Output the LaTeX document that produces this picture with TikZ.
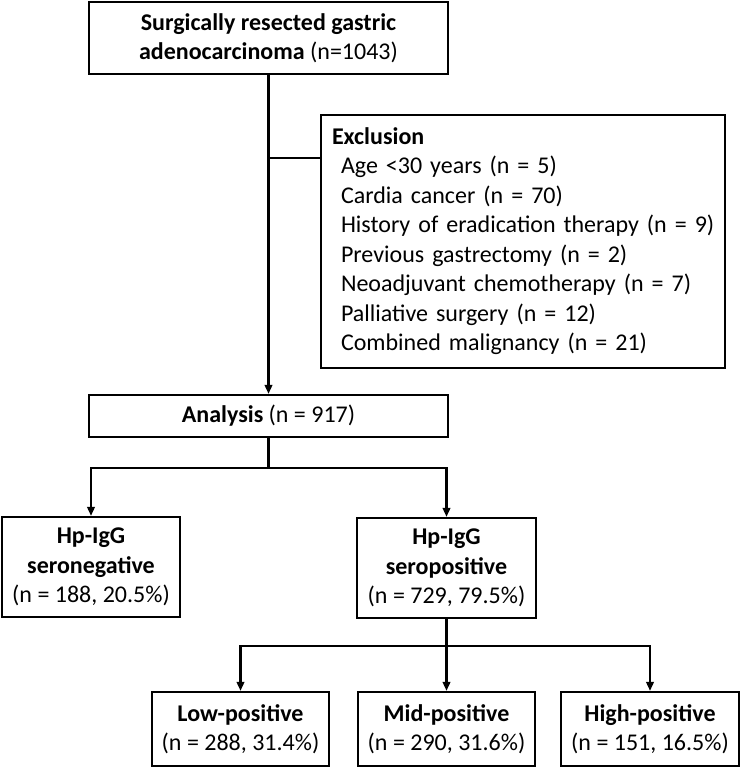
\documentclass[tikz,border=0pt]{standalone}
\usepackage{fontspec}
\setmainfont{Carlito}
\usetikzlibrary{arrows.meta}
\begin{document}
\begin{tikzpicture}[x=1pt, y=-1pt, line width=2.2pt,
    main/.style ={draw, rectangle, align=center, inner sep=0pt, font=\fontsize{24}{29.5}\selectfont},
    arr/.style ={-{Triangle[length=9pt, width=7.5pt]}}]
    \useasboundingbox (0,0) rectangle (740,767);
    \node[main, minimum width=359pt, minimum height=72pt] (1) at (268.5,38) {\textbf{Surgically resected gastric}\\\textbf{adenocarcinoma} (n=1043)};
    \node[main, align=left, text width=382pt, inner xsep=11pt, minimum height=253pt] (2) at (523,241.5) {\begin{tabular}{@{}l@{}}
        \textbf{Exclusion}\\
        \hspace*{9pt}Age <30 years (n = 5)\\
        \hspace*{9pt}Cardia cancer (n = 70)\\
        \hspace*{9pt}History of eradication therapy (n = 9)\\
        \hspace*{9pt}Previous gastrectomy (n = 2)\\
        \hspace*{9pt}Neoadjuvant chemotherapy (n = 7)\\
        \hspace*{9pt}Palliative surgery (n = 12)\\
        \hspace*{9pt}Combined malignancy (n = 21)
    \end{tabular}};
    \node[main, minimum width=359pt, minimum height=42pt] (3) at (268.5,416) {\textbf{Analysis} (n = 917)};
    \node[main, minimum width=178pt, minimum height=100pt] (4) at (91,567) {\textbf{Hp-IgG}\\\textbf{seronegative}\\(n = 188, 20.5\%)};
    \node[main, minimum width=179pt, minimum height=100pt] (5) at (446.5,568) {\textbf{Hp-IgG}\\\textbf{seropositive}\\(n = 729, 79.5\%)};
    \node[main, minimum width=177pt, minimum height=74pt] (6) at (240.5,729) {\textbf{Low-positive}\\(n = 288, 31.4\%)};
    \node[main, minimum width=177pt, minimum height=74pt] (7) at (446.5,729) {\textbf{Mid-positive}\\(n = 290, 31.6\%)};
    \node[main, minimum width=178pt, minimum height=74pt] (8) at (650,729) {\textbf{High-positive}\\(n = 151, 16.5\%)};
    \coordinate (b) at (268.5,158);
    \draw[arr] (1) -- (3);
    \draw (b) -- (b -| 2.west);
    \draw[arr] (3.south) -- ++(0,30) -| (4.north);
    \draw[arr] (3.south) -- ++(0,30) -| (5.north);
    \draw[arr] (5.south) -- ++(0,27) -| (6.north);
    \draw[arr] (5.south) -- (7.north);
    \draw[arr] (5.south) -- ++(0,27) -| (8.north);
\end{tikzpicture}
\end{document}
